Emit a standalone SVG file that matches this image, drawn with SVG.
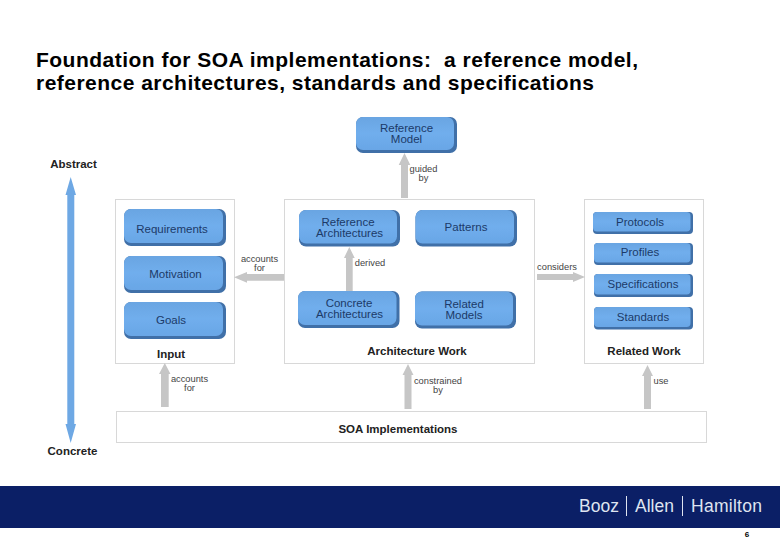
<svg xmlns="http://www.w3.org/2000/svg" width="780" height="540" viewBox="0 0 780 540">
<defs>
<linearGradient id="face" x1="0" y1="0" x2="0" y2="1"><stop offset="0" stop-color="#6aa5e2"/><stop offset="0.5" stop-color="#70aeed"/><stop offset="1" stop-color="#69a6e6"/></linearGradient>
<filter id="soft" x="-5%" y="-10%" width="110%" height="120%"><feGaussianBlur stdDeviation="0.6"/></filter>
</defs>
<style>
text{font-family:"Liberation Sans",Arial,sans-serif}
.title{font-size:21px;font-weight:bold;fill:#000;white-space:pre}
.n{font-size:11.500px;fill:#1c3a68;text-anchor:middle}
.l{font-size:9.300px;fill:#444;text-anchor:middle}
.b{font-size:11.500px;font-weight:bold;fill:#222;text-anchor:middle}
.box{fill:#fff;stroke:#d8d8d8;stroke-width:1}
.sh{fill:#3f6fa8;filter:url(#soft)}
.fc{fill:url(#face);filter:url(#soft)}
.ar{fill:#c6c6c6}
</style>
<rect width="780" height="540" fill="#fff"/>
<text class="title" x="36" y="67" textLength="602">Foundation for SOA implementations:  a reference model,</text>
<text class="title" x="36" y="90" textLength="558">reference architectures, standards and specifications</text>

<g id="scale">
<path d="M70.700 177L76 195H74.300V424H76L70.700 443L65.500 424H67.300V195H65.500Z" fill="#6ea8e4"/>
<text class="b" x="73.500" y="168">Abstract</text>
<text class="b" x="72.500" y="455">Concrete</text>
</g>

<g id="input"><rect class="box" x="115.500" y="199.500" width="119" height="164"/><text class="b" x="171" y="358">Input</text></g>
<g id="architecture-work"><rect class="box" x="284.500" y="199.500" width="250" height="164"/><text class="b" x="417" y="355">Architecture Work</text></g>
<g id="related-work"><rect class="box" x="584.500" y="199.500" width="119" height="164"/><text class="b" x="644" y="355">Related Work</text></g>
<g id="soa-implementations"><rect class="box" x="116.500" y="411.500" width="590" height="31"/><text class="b" x="398" y="433">SOA Implementations</text></g>

<g id="connectors">
<path class="ar" d="M401 198V165H398.700L404.500 153L410.300 165H408V198Z"/>
<path class="ar" d="M346 292V258H344L349.300 247L354.700 258H352.700V292Z"/>
<path class="ar" d="M284 274V280.700H247V282.700L234 277.300L247 272V274Z"/>
<path class="ar" d="M537 274H573V272L585 277L573 282V280H537Z"/>
<path class="ar" d="M161 407V374H159L164.800 363L170.500 374H168.700V407Z"/>
<path class="ar" d="M404.500 409V375H402.500L408 364L413.500 375H411.500V409Z"/>
<path class="ar" d="M644 409V376H642L647.500 365L653 376H651V409Z"/>
<text class="l" x="423.500" y="171.700">guided</text><text class="l" x="423.500" y="181.200">by</text>
<text class="l" x="370" y="266">derived</text>
<text class="l" x="259.500" y="261.700">accounts</text><text class="l" x="259.500" y="271.200">for</text>
<text class="l" x="557" y="270">considers</text>
<text class="l" x="189.500" y="381.700">accounts</text><text class="l" x="189.500" y="391.200">for</text>
<text class="l" x="438" y="383.700">constrained</text><text class="l" x="438" y="393.200">by</text>
<text class="l" x="661" y="384">use</text>
</g>

<g id="reference-model"><rect class="sh" x="356" y="117" width="101" height="36" rx="7"/><rect class="fc" x="356" y="117" width="98" height="33" rx="7"/><text class="n" x="406.500" y="132">Reference</text><text class="n" x="406.500" y="143">Model</text></g>
<g id="reference-architectures"><rect class="sh" x="299" y="210" width="101" height="36.500" rx="7"/><rect class="fc" x="299" y="210" width="98" height="33.500" rx="7"/><text class="n" x="348" y="226">Reference</text><text class="n" x="349.500" y="237">Architectures</text></g>
<g id="patterns"><rect class="sh" x="415.500" y="210" width="101.500" height="36.500" rx="7"/><rect class="fc" x="415.500" y="210" width="98.500" height="33.500" rx="7"/><text class="n" x="466" y="231">Patterns</text></g>
<g id="concrete-architectures"><rect class="sh" x="298" y="291" width="101.500" height="37" rx="7"/><rect class="fc" x="298" y="291" width="98.500" height="34" rx="7"/><text class="n" x="349" y="307">Concrete</text><text class="n" x="349.500" y="318">Architectures</text></g>
<g id="related-models"><rect class="sh" x="415" y="291.500" width="101" height="37" rx="7"/><rect class="fc" x="415" y="291.500" width="98" height="34" rx="7"/><text class="n" x="464" y="308">Related</text><text class="n" x="464" y="319">Models</text></g>

<g id="requirements"><rect class="sh" x="124" y="209" width="102" height="37" rx="7"/><rect class="fc" x="124" y="209" width="99" height="34" rx="7"/><text class="n" x="172" y="233">Requirements</text></g>
<g id="motivation"><rect class="sh" x="124" y="256" width="102" height="37" rx="7"/><rect class="fc" x="124" y="256" width="99" height="34" rx="7"/><text class="n" x="175.500" y="278">Motivation</text></g>
<g id="goals"><rect class="sh" x="124" y="302" width="102" height="37" rx="7"/><rect class="fc" x="124" y="302" width="99" height="34" rx="7"/><text class="n" x="171" y="324">Goals</text></g>

<g id="protocols"><rect class="sh" x="593" y="212" width="100" height="22" rx="4"/><rect class="fc" x="593" y="212" width="97.500" height="19.500" rx="4"/><text class="n" x="640" y="226">Protocols</text></g>
<g id="profiles"><rect class="sh" x="594" y="243" width="99" height="22" rx="4"/><rect class="fc" x="594" y="243" width="96.500" height="19.500" rx="4"/><text class="n" x="640" y="256">Profiles</text></g>
<g id="specifications"><rect class="sh" x="594" y="274" width="99" height="23" rx="4"/><rect class="fc" x="594" y="274" width="96.500" height="20.500" rx="4"/><text class="n" x="643" y="288">Specifications</text></g>
<g id="standards"><rect class="sh" x="594" y="307" width="99" height="22.500" rx="4"/><rect class="fc" x="594" y="307" width="96.500" height="20" rx="4"/><text class="n" x="643" y="321">Standards</text></g>

<g id="footer">
<rect x="0" y="486" width="780" height="42" fill="#0b1f66"/>
<text x="579" y="512" font-size="17.500" fill="#dfe4f0">Booz</text>
<rect x="626" y="496" width="1" height="20" fill="#dfe4f0"/>
<text x="635" y="512" font-size="17.500" fill="#dfe4f0">Allen</text>
<rect x="682" y="496" width="1" height="20" fill="#dfe4f0"/>
<text x="691" y="512" font-size="17.500" fill="#dfe4f0" textLength="71">Hamilton</text>
<text x="747" y="537" font-size="8" font-weight="bold" fill="#000" text-anchor="middle">6</text>
</g>
</svg>
